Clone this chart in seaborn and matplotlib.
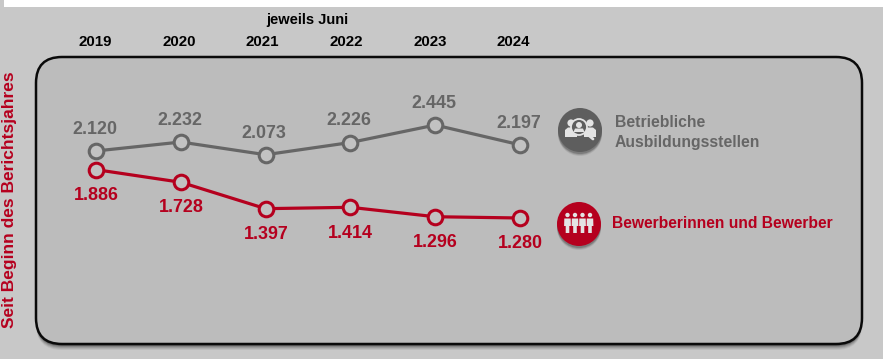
import pandas as pd
import matplotlib.pyplot as plt
from matplotlib.patches import Circle, FancyBboxPatch, Rectangle, Polygon
import seaborn as sns

years = [2019, 2020, 2021, 2022, 2023, 2024]
stellen = [2120, 2232, 2073, 2226, 2445, 2197]
bewerber = [1886, 1728, 1397, 1414, 1296, 1280]

GREY = "#666666"
RED = "#b5001e"
PANEL = "#bcbcbc"
BACK = "#c8c8c8"

sns.set_theme(style="white")
plt.rcParams["font.family"] = ["Liberation Sans", "DejaVu Sans"]
plt.rcParams["font.weight"] = "bold"

df = pd.DataFrame({"Jahr": years * 2,
                   "Anzahl": stellen + bewerber,
                   "Gruppe": ["Stellen"] * 6 + ["Bewerber"] * 6})

fig = plt.figure(figsize=(8.83, 3.59), dpi=100, facecolor=BACK)

# background axes in pixel coordinates for the panel and the icons
bg = fig.add_axes([0, 0, 1, 1], zorder=0)
bg.set_xlim(0, 883)
bg.set_ylim(359, 0)
bg.axis("off")
bg.add_patch(Rectangle((4, 0), 879, 7, color="white", lw=0))

# soft shadow under the panel
for off, alpha in [(6, 0.06), (5, 0.08), (4, 0.10), (3, 0.14), (2, 0.2)]:
    bg.add_patch(FancyBboxPatch((36 + 26, 57 + 26 + off), 826 - 52, 287 - 52,
                                boxstyle="round,pad=26,rounding_size=26",
                                fc="black", ec="none", alpha=alpha))
bg.add_patch(FancyBboxPatch((36 + 26, 57 + 26), 826 - 52, 287 - 52,
                            boxstyle="round,pad=26,rounding_size=26",
                            fc=PANEL, ec="#0a0a0a", lw=1.8))


def disc(x, y, r, color):
    for off, alpha in [(4, 0.08), (3, 0.12), (2, 0.18)]:
        bg.add_patch(Circle((x, y + off), r, fc="black", ec="none", alpha=alpha))
    bg.add_patch(Circle((x, y), r, fc=color, ec="none"))


# search icon
disc(580, 130, 22, "#5e5e5e")
light = "#e4e4e4"
for cx in (571, 590):
    bg.add_patch(Circle((cx, 123), 3.6, fc=light, ec="none"))
    bg.add_patch(Polygon([(cx - 6, 137), (cx - 6, 130), (cx - 3, 127.5), (cx + 3, 127.5),
                          (cx + 6, 130), (cx + 6, 137)], fc=light, ec="none"))
bg.add_patch(Circle((579, 127), 8, fc="#5e5e5e", ec=light, lw=1.3))
bg.add_patch(Circle((579, 125), 3, fc=light, ec="none"))
bg.add_patch(Polygon([(573.5, 132), (575, 128.5), (583, 128.5), (584.5, 132)], fc=light, ec="none"))
bg.plot([586, 593], [133, 139], color=light, lw=2, solid_capstyle="round")

# people icon
disc(579, 224, 22, RED)
for cx in (567.5, 575, 582.5, 590):
    bg.add_patch(Circle((cx, 215), 2.2, fc=light, ec="none"))
    bg.add_patch(Polygon([(cx - 3.2, 218.5), (cx + 3.2, 218.5), (cx + 3.4, 226), (cx + 1.8, 226),
                          (cx + 1.8, 233), (cx - 1.8, 233), (cx - 1.8, 226), (cx - 3.4, 226)],
                         fc=light, ec="none"))

# column headings
bg.text(307, 20, "jeweils Juni", color="black", fontsize=10.5, ha="center", va="center")
for i, y in enumerate(years):
    bg.text(95.5 + i * 83.6, 42.5, str(y), color="black", fontsize=10.8, ha="center", va="center")

bg.text(10, 200, "Seit Beginn des Berichtsjahres", color=RED, fontsize=12.5,
        rotation=90, ha="center", va="center")

bg.text(615, 132.5, "Betriebliche\nAusbildungsstellen", color=GREY, fontsize=11.35,
        ha="left", va="center", linespacing=1.4)
bg.text(612, 224, "Bewerberinnen und Bewerber", color=RED, fontsize=11.25,
        ha="left", va="center")

# data axes, scaled so the lines land on the panel
ax = fig.add_axes([0, 0, 1, 1], zorder=1)
ax.patch.set_alpha(0)
px_year = 84.8
px_unit = 0.0798
sns.lineplot(data=df, x="Jahr", y="Anzahl", hue="Gruppe",
             palette={"Stellen": GREY, "Bewerber": RED}, marker="o", markersize=10.5,
             markerfacecolor="#c2c2c2", markeredgewidth=2.2, linewidth=2.3,
             legend=False, errorbar=None, ax=ax)
for line, c in zip(ax.get_lines(), [GREY, RED]):
    line.set_markeredgecolor(c)
ax.set_xlim(2019 - 96 / px_year, 2019 + (883 - 96) / px_year)
ax.set_ylim(1280 - (359 - 218) / px_unit, 1280 + 218 / px_unit)
ax.axis("off")


def fmt(v):
    return f"{v:,}".replace(",", ".")


for x, v in zip(years, stellen):
    ax.annotate(fmt(v), (x, v), xytext=(-1, 15.5), textcoords="offset points",
                color=GREY, fontsize=12.9, ha="center", va="center")
for x, v in zip(years, bewerber):
    ax.annotate(fmt(v), (x, v), xytext=(0.3, -18.5), textcoords="offset points",
                color=RED, fontsize=12.9, ha="center", va="center")

fig.savefig("out.png", dpi=100, facecolor=BACK)
